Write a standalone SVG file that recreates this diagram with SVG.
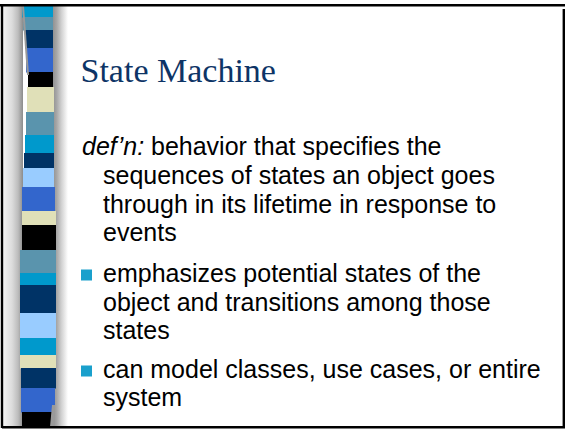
<svg xmlns="http://www.w3.org/2000/svg" width="565" height="429" viewBox="0 0 565 429">
  <defs>
    <linearGradient id="bandLeft" x1="0" y1="0" x2="1" y2="0">
      <stop offset="0" stop-color="#f4f4f4"/>
      <stop offset="0.45" stop-color="#dcdcdc"/>
      <stop offset="0.75" stop-color="#bdbdbd"/>
      <stop offset="1" stop-color="#8c8c8c"/>
    </linearGradient>
    <linearGradient id="bandRight" x1="0" y1="0" x2="1" y2="0">
      <stop offset="0" stop-color="#8c8c8c"/>
      <stop offset="0.3" stop-color="#a8a8a8"/>
      <stop offset="0.6" stop-color="#d2d2d2"/>
      <stop offset="1" stop-color="#ffffff"/>
    </linearGradient>
    <style>
      .title { font-family: "Liberation Serif", "Times New Roman", serif; font-size: 34px; fill: #0d3466; }
      .body { font-family: "Liberation Sans", Arial, sans-serif; font-size: 25px; fill: #000; }
      .em { font-style: italic; }
      .bullet { fill: #1aa0cc; }
      .frame { stroke: #000; stroke-width: 2.4; fill: none; }
      .c1 { fill: #0099cc; } .c2 { fill: #5a94ad; } .c3 { fill: #003366; }
      .c4 { fill: #3366cc; } .c5 { fill: #000000; } .c6 { fill: #e0e0b8; }
      .c7 { fill: #99ccff; }
    </style>
  </defs>

  <rect width="565" height="429" fill="#ffffff"/>

  <!-- decorative side strip -->
  <g id="strip">
    <rect x="3" y="6" width="20" height="421" fill="url(#bandLeft)"/>
    <rect x="52" y="6" width="16" height="421" fill="url(#bandRight)"/>
    <rect class="c1" x="22" y="5" width="31" height="12.5"/>
    <rect class="c2" x="23" y="17" width="30" height="13.5"/>
    <rect class="c3" x="25" y="30" width="28" height="18.5"/>
    <rect class="c4" x="26" y="48" width="27" height="24.5"/>
    <rect class="c5" x="28" y="72" width="25" height="15.5"/>
    <rect class="c6" x="27" y="87" width="27" height="25.5"/>
    <rect class="c2" x="26" y="112" width="28" height="23.5"/>
    <rect class="c1" x="25" y="135" width="29" height="18.5"/>
    <rect class="c3" x="24" y="153" width="30" height="15.5"/>
    <rect class="c7" x="23" y="168" width="31" height="19.5"/>
    <rect class="c4" x="22" y="187" width="33" height="24.5"/>
    <rect class="c6" x="22" y="211" width="34" height="14.5"/>
    <rect class="c5" x="22" y="225" width="34" height="25.5"/>
    <rect class="c2" x="20" y="250" width="36" height="23.5"/>
    <rect class="c1" x="20" y="273" width="36" height="12.5"/>
    <rect class="c3" x="20" y="285" width="36" height="28.5"/>
    <rect class="c7" x="20" y="313" width="36" height="25.5"/>
    <rect class="c1" x="20" y="338" width="36" height="17.5"/>
    <rect class="c6" x="20" y="355" width="36" height="13.5"/>
    <rect class="c3" x="21" y="368" width="35" height="20.5"/>
    <rect class="c4" x="21" y="388" width="34" height="24.5"/>
    <rect class="c5" x="22" y="412" width="33" height="15"/>
    <!-- shading along the strip edges -->
    <polygon points="22,6 24,6 29,75 27,75" fill="#9a9a9a"/>
    <polygon points="52,405 55,405 55,427 50,427" fill="#9a9a9a"/>
  </g>

  <!-- slide frame -->
  <g id="frame">
    <line class="frame" x1="0" y1="5.2" x2="565" y2="5.2"/>
    <line class="frame" x1="2" y1="5" x2="2" y2="428"/>
    <line class="frame" x1="563.8" y1="9" x2="563.8" y2="428"/>
    <line class="frame" x1="2" y1="427.2" x2="565" y2="427.2"/>
  </g>

  <g id="title">
    <text class="title" x="80.5" y="82">State Machine</text>
  </g>

  <g id="definition" class="body">
    <text class="body em" x="82" y="155">def’n:</text>
    <text class="body" x="151" y="155">behavior that specifies the</text>
    <text class="body" x="103" y="184">sequences of states an object goes</text>
    <text class="body" x="103" y="212.5">through in its lifetime in response to</text>
    <text class="body" x="103" y="241">events</text>
  </g>

  <g id="point-1">
    <rect class="bullet" x="81" y="269.5" width="11" height="11"/>
    <text class="body" x="103" y="281.5">emphasizes potential states of the</text>
    <text class="body" x="103" y="310.5">object and transitions among those</text>
    <text class="body" x="103" y="339">states</text>
  </g>

  <g id="point-2">
    <rect class="bullet" x="81" y="365.5" width="11" height="11"/>
    <text class="body" x="103" y="377.5">can model classes, use cases, or entire</text>
    <text class="body" x="103" y="406">system</text>
  </g>
</svg>
